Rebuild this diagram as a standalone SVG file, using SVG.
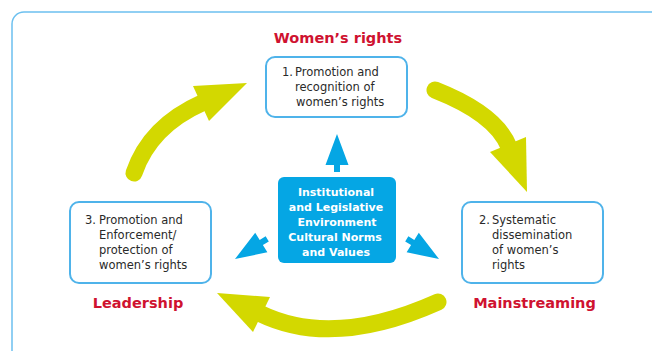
<svg xmlns="http://www.w3.org/2000/svg" xmlns:xlink="http://www.w3.org/1999/xlink" width="652" height="351" viewBox="0 0 652 351">
  <style>
    .frame { fill: none; stroke: #6cc0ef; stroke-width: 1.5; }
    .box { fill: #ffffff; stroke: #4fb3ea; stroke-width: 2; }
    .core { fill: #05a6e4; }
    .txt { font-family: "DejaVu Sans", Verdana, sans-serif; font-size: 11.5px; fill: #2a2a2a; }
    .core-txt { font-family: "DejaVu Sans", Verdana, sans-serif; font-size: 11px; font-weight: bold; fill: #ffffff; text-anchor: middle; }
    .title { font-family: "DejaVu Sans", Verdana, sans-serif; font-size: 14.5px; font-weight: bold; fill: #cf1230; text-anchor: middle; }
    .shaft { fill: none; stroke: #d3d800; stroke-width: 17; stroke-linecap: round; }
    .head { fill: #d3d800; }
    .push { fill: #05a6e4; }
  </style>
  <defs>
    <!-- small blue arrow, tip at origin, pointing up -->
    <path id="pointer" d="M0,0 L11.5,31 L3,31 L3,38 L-3,38 L-3,31 L-11.5,31 Z"/>
  </defs>

  <rect class="frame" x="12" y="12" width="660" height="360" rx="12" ry="12"/>

  <g id="connectors">
    <!-- cycle arrows -->
    <path class="shaft" d="M134,173 Q150,126 203,102.5"/>
    <polygon class="head" points="247,83 193,86 209,121"/>
    <path class="shaft" d="M435,90 Q496,114 509,147"/>
    <polygon class="head" points="527,192 490,152 526,137"/>
    <path class="shaft" d="M438,302 Q333,349 260,313.5"/>
    <polygon class="head" points="217,293 270,297 253,332"/>
    <!-- arrows out of the core -->
    <use xlink:href="#pointer" class="push" transform="translate(337,134)"/>
    <use xlink:href="#pointer" class="push" transform="translate(235,259) rotate(-122)"/>
    <use xlink:href="#pointer" class="push" transform="translate(439,259) rotate(122)"/>
  </g>

  <g id="core">
    <rect class="core" x="278" y="177" width="118" height="86" rx="6" ry="6"/>
    <text class="core-txt" x="336" y="196">Institutional</text>
    <text class="core-txt" x="336" y="211">and Legislative</text>
    <text class="core-txt" x="337" y="226">Environment</text>
    <text class="core-txt" x="335" y="241">Cultural Norms</text>
    <text class="core-txt" x="336" y="256">and Values</text>
  </g>

  <g id="womens-rights">
    <text class="title" x="338" y="43">Women’s rights</text>
    <rect class="box" x="266" y="57" width="141" height="60" rx="9" ry="9"/>
    <text class="txt" x="282" y="76">1.</text>
    <text class="txt" x="295" y="76">Promotion and</text>
    <text class="txt" x="295" y="91">recognition of</text>
    <text class="txt" x="296" y="106">women’s rights</text>
  </g>

  <g id="mainstreaming">
    <rect class="box" x="462" y="202" width="141" height="81" rx="9" ry="9"/>
    <text class="txt" x="479" y="224">2.</text>
    <text class="txt" x="492" y="224">Systematic</text>
    <text class="txt" x="492" y="239">dissemination</text>
    <text class="txt" x="492" y="254">of women’s</text>
    <text class="txt" x="492" y="269">rights</text>
    <text class="title" x="534.5" y="308">Mainstreaming</text>
  </g>

  <g id="leadership">
    <rect class="box" x="70" y="202" width="141" height="81" rx="9" ry="9"/>
    <text class="txt" x="85" y="224">3.</text>
    <text class="txt" x="99" y="224">Promotion and</text>
    <text class="txt" x="99" y="239">Enforcement/</text>
    <text class="txt" x="99" y="254">protection of</text>
    <text class="txt" x="99" y="269">women’s rights</text>
    <text class="title" x="138" y="308">Leadership</text>
  </g>
</svg>
